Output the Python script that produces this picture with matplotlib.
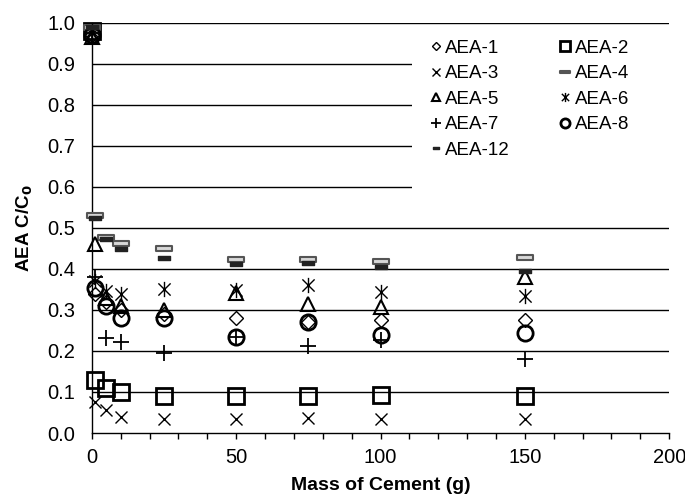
import matplotlib.pyplot as plt
from matplotlib.path import Path
from matplotlib.patches import Rectangle
from matplotlib.ticker import MultipleLocator

plt.rcParams['font.family'] = ['Liberation Sans', 'DejaVu Sans']

mass = [0, 1, 5, 10, 25, 50, 75, 100, 150]
aea1 = [0.97, 0.34, 0.32, 0.30, 0.29, 0.28, 0.27, 0.275, 0.275]
aea2 = [0.98, 0.13, 0.11, 0.10, 0.09, 0.09, 0.09, 0.092, 0.09]
aea3 = [0.975, 0.075, 0.055, 0.04, 0.033, 0.035, 0.037, 0.035, 0.035]
aea4 = [0.99, 0.532, 0.478, 0.463, 0.45, 0.424, 0.424, 0.42, 0.43]
aea5 = [0.965, 0.46, 0.33, 0.31, 0.30, 0.342, 0.315, 0.308, 0.38]
aea6 = [0.98, 0.37, 0.345, 0.34, 0.35, 0.348, 0.36, 0.343, 0.333]
aea7 = [0.975, 0.38, 0.232, 0.222, 0.195, 0.235, 0.213, 0.227, 0.18]
aea8 = [0.97, 0.353, 0.31, 0.28, 0.28, 0.235, 0.27, 0.24, 0.245]
aea12 = [0.99, 0.525, 0.472, 0.449, 0.427, 0.412, 0.414, 0.405, 0.395]

# custom markers
asterisk = Path([(0, -1), (0, 1), (-0.8, -0.8), (0.8, 0.8), (-0.8, 0.8), (0.8, -0.8)],
                [Path.MOVETO, Path.LINETO] * 3)
bar = Path([(-1, -0.3), (1, -0.3), (1, 0.3), (-1, 0.3), (-1, -0.3)],
           [Path.MOVETO, Path.LINETO, Path.LINETO, Path.LINETO, Path.CLOSEPOLY])

fig = plt.figure(figsize=(6.85, 4.96), dpi=100)
ax = fig.add_axes([0.134, 0.127, 0.843, 0.827])

for y in [0.1, 0.2, 0.3, 0.4, 0.5, 0.6, 0.7, 0.8, 0.9, 1.0]:
    ax.axhline(y, color='black', lw=1, zorder=1)

# white box behind the legend hides the grid lines
ax.add_patch(Rectangle((0.555, 0.565), 0.46, 0.42, transform=ax.transAxes,
                       facecolor='white', edgecolor='none', zorder=2, clip_on=False))

kw = dict(ls='none', zorder=3, clip_on=False)
h1, = ax.plot(mass, aea1, marker='D', ms=7, mfc='none', mec='black', mew=1.0, **kw)
h2, = ax.plot(mass, aea2, marker='s', ms=11, mfc='none', mec='black', mew=2.0, **kw)
h3, = ax.plot(mass, aea3, marker='x', ms=9, mec='black', mew=1.0, **kw)
h4, = ax.plot(mass, aea4, marker=bar, ms=12, mfc='#d8d8d8', mec='#555555', mew=1.5, **kw)
h5, = ax.plot(mass, aea5, marker='^', ms=10, mfc='none', mec='black', mew=1.5, **kw)
h6, = ax.plot(mass, aea6, marker=asterisk, ms=11, mec='black', mew=1.0, **kw)
h7, = ax.plot(mass, aea7, marker='+', ms=11, mec='black', mew=1.3, **kw)
h8, = ax.plot(mass, aea8, marker='o', ms=11, mfc='none', mec='black', mew=2.0, **kw)
h12, = ax.plot(mass, aea12, marker=bar, ms=8, mfc='#222222', mec='#222222', mew=1.0, **kw)

handles = [h1, h3, h5, h7, h12, h2, h4, h6, h8]
labels = ['AEA-1', 'AEA-3', 'AEA-5', 'AEA-7', 'AEA-12', 'AEA-2', 'AEA-4', 'AEA-6', 'AEA-8']
leg = ax.legend(handles, labels, ncol=2, loc='upper left',
                bbox_to_anchor=(0.57, 0.982), fontsize=13.5,
                markerscale=0.6, handlelength=0.6, handletextpad=0.2,
                labelspacing=0.45, borderpad=0.0, columnspacing=2.65,
                frameon=False)
leg.set_zorder(5)

ax.set_xlim(0, 200)
ax.set_ylim(0, 1.0)
ax.xaxis.set_major_locator(MultipleLocator(50))
ax.xaxis.set_minor_locator(MultipleLocator(10))
ax.yaxis.set_major_locator(MultipleLocator(0.1))
ax.yaxis.set_major_formatter(plt.FormatStrFormatter('%.1f'))
ax.tick_params(axis='x', which='both', direction='out', length=4, width=1, labelsize=14.5, pad=7)
ax.tick_params(axis='y', length=0, labelsize=14.5, pad=12)

for s in ['top', 'right']:
    ax.spines[s].set_visible(False)
ax.spines['left'].set_linewidth(1)
ax.spines['bottom'].set_linewidth(1)

ax.set_xlabel('Mass of Cement (g)', fontsize=14, fontweight='bold', labelpad=7)
ax.set_ylabel('AEA C/C$_\\mathbf{0}$', fontsize=13.5, fontweight='bold', labelpad=9)

fig.savefig('out.png', dpi=100)
